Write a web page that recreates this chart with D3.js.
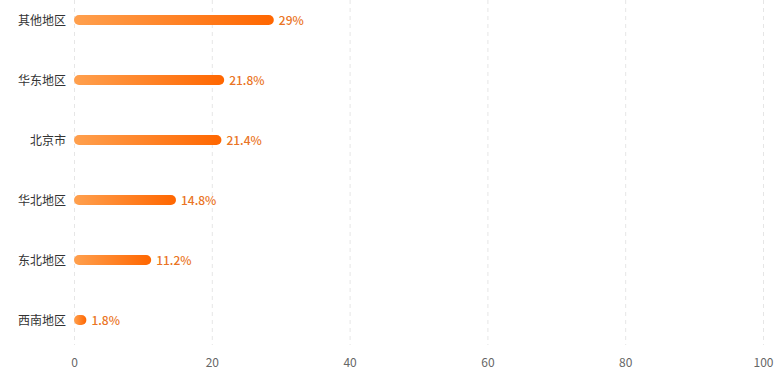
<!DOCTYPE html>
<html><head><meta charset="utf-8">
<script src="https://cdn.jsdelivr.net/npm/d3@7/dist/d3.min.js"></script>
<style>body{margin:0;background:#fff}svg{display:block}</style>
</head><body>
<svg id="c" width="783" height="384"></svg>
<script>
const categories = ["其他地区","华东地区","北京市","华北地区","东北地区","西南地区"];
const values = [29, 21.8, 21.4, 14.8, 11.2, 1.8];
const labels = ["29%","21.8%","21.4%","14.8%","11.2%","1.8%"];
const xTicks = [0,20,40,60,80,100];

const svg = d3.select("#c");
const font = "'Noto Sans CJK SC','Noto Sans',sans-serif";
const x = d3.scaleLinear().domain([0,100]).range([74,763]);
const y = d3.scalePoint().domain(categories).range([20,320]);
const gridTop = 0, gridBottom = 345, barH = 10;

const defs = svg.append("defs");
const g = defs.append("linearGradient").attr("id","grad").attr("x1","0%").attr("x2","100%").attr("y1","0%").attr("y2","0%");
g.append("stop").attr("offset","0%").attr("stop-color","#FFA04E");
g.append("stop").attr("offset","100%").attr("stop-color","#FF6600");

svg.append("g").selectAll("line").data(xTicks).join("line")
  .attr("x1",d=>x(d)+0.5).attr("x2",d=>x(d)+0.5)
  .attr("y1",gridTop).attr("y2",gridBottom)
  .attr("stroke","#e6e6e6").attr("stroke-dasharray","4,4");

const xAxis = svg.append("g").attr("transform",`translate(0,${gridBottom})`)
  .call(d3.axisBottom(x).tickValues(xTicks).tickSize(0).tickPadding(13));
xAxis.select(".domain").remove();
xAxis.selectAll("text").attr("fill","#666").style("font-family",font).style("font-size","12px");

const yAxis = svg.append("g").attr("transform",`translate(66,0)`)
  .call(d3.axisLeft(y).tickSize(0).tickPadding(0));
yAxis.select(".domain").remove();
yAxis.selectAll("text").attr("fill","#333").attr("dy","0.38em").style("font-family",font).style("font-size","12px");

const data = categories.map((c,i)=>({c, v:values[i], l:labels[i]}));
svg.append("g").selectAll("rect").data(data).join("rect")
  .attr("x",x(0)).attr("y",d=>y(d.c)-barH/2)
  .attr("width",d=>Math.max(x(d.v)-x(0),12)).attr("height",barH)
  .attr("rx",barH/2).attr("ry",barH/2)
  .attr("fill","url(#grad)");

svg.append("g").selectAll("text").data(data).join("text")
  .attr("x",d=>x(0)+Math.max(x(d.v)-x(0),12)+5).attr("y",d=>y(d.c))
  .attr("dy","0.38em")
  .attr("fill","#EA7424").style("font-family",font).style("font-size","12px").style("font-weight","500")
  .text(d=>d.l);
</script>
</body></html>
